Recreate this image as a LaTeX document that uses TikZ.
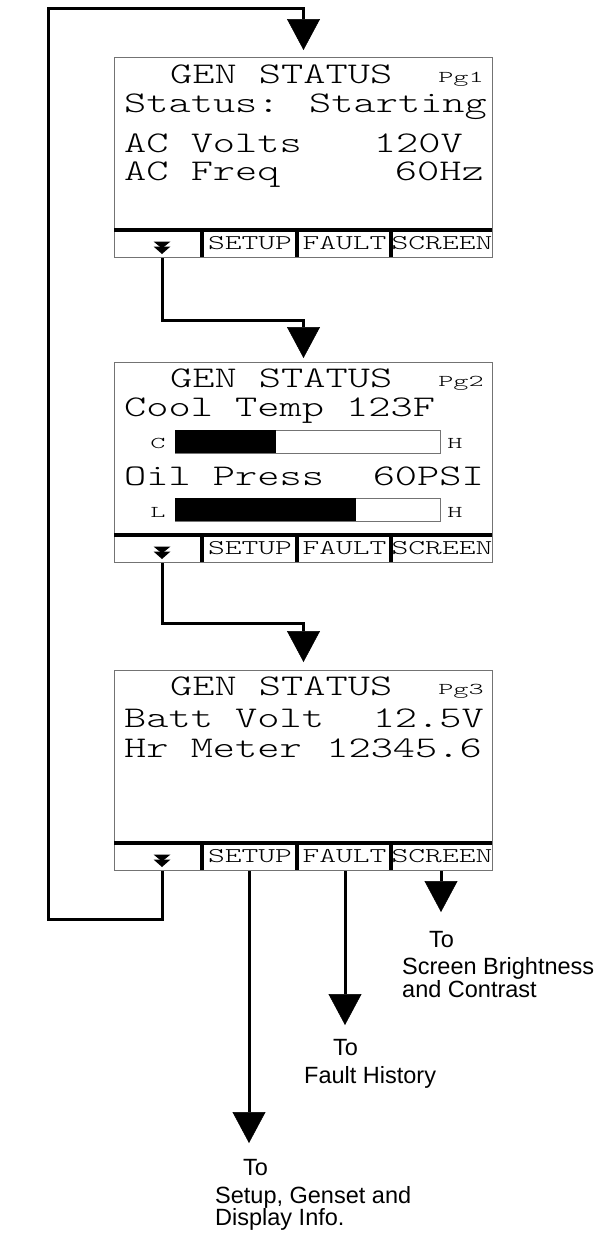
\documentclass[tikz,border=0pt]{standalone}
\usepackage{fontspec}
\usetikzlibrary{arrows.meta,positioning,calc}
\newfontfamily\lcdfont[FakeStretch=1.41]{lmmonolt10-regular.otf}
\newfontfamily\keyfont[FakeStretch=1.52]{lmmonolt10-regular.otf}
\newfontfamily\tinyfont[FakeStretch=1.75]{lmmonolt10-regular.otf}
\newfontfamily\labelfont{Liberation Sans}

\begin{document}
\begin{tikzpicture}[x=1pt, y=-1pt,
    scr/.style={draw=black!55, line width=1pt, minimum width=378pt, minimum height=200pt, inner sep=0pt, anchor=north west},
    sep/.style={line width=4pt},
    keycell/.style={minimum width=93pt, minimum height=27pt, inner sep=0pt, text height=13pt, text depth=4pt, font=\keyfont\fontsize{21}{21}\selectfont},
    navcell/.style={minimum width=1pt, minimum height=27pt, inner sep=0pt},
    big/.style={inner sep=0pt, anchor=base west, font=\lcdfont\fontsize{30}{30}\selectfont},
    val/.style={big, anchor=base east},
    small/.style={inner sep=0pt, anchor=base, font=\tinyfont\fontsize{16.5}{16.5}\selectfont},
    pg/.style={small, anchor=base east},
    bar/.style={draw=black!55, line width=0.8pt},
    arr/.style={-{Triangle[width=33pt, length=31pt, line width=0.5pt]}, line width=3pt},
    dest/.style={inner sep=0pt, anchor=base west, font=\labelfont\fontsize{23.5}{23.5}\selectfont}
]
\fill[white] (0,0) rectangle (608,1245);
\useasboundingbox (0,0) rectangle (608,1245);

\foreach \s/\t in {1/57, 2/362, 3/670} {
    \node[scr] (s\s) at (114,\t) {};
    \draw[sep] (114,\t+173) -- (492,\t+173);
    \foreach \x in {202, 297, 391}
        \draw[sep] (\x,\t+173) -- (\x,\t+200);
    \node[navcell] (nav\s) at (162,\t+187.5) {};
    \node[keycell] (setup\s) at (250,\t+187.5) {SETUP};
    \node[keycell] (fault\s) at (344.5,\t+187.5) {FAULT};
    \node[keycell] (screen\s) at (442,\t+187.5) {SCREEN};
    \fill ($(nav\s)+(-8.5,-3)$) -- ++(17,0) -- ++(-8.5,7) -- cycle;
    \fill ($(nav\s)+(-8.5,2)$) -- ++(17,0) -- ++(-8.5,7.5) -- cycle;
}

\node[big] (title1) at (170,83) {GEN STATUS};
\node[pg] (pg1) at (484,82) {Pg1};
\node[big] (status) at (124,112) {Status: Starting};
\node[big] (acv) at (124,152) {AC Volts};
\node[val] (acvval) at (463,152) {120V};
\node[big] (acf) at (124,180) {AC Freq};
\node[val] (acfval) at (484,180) {60Hz};

\node[big] (title2) at (170,387) {GEN STATUS};
\node[pg] (pg2) at (484,386) {Pg2};
\node[big] (cool) at (124,416) {Cool Temp 123F};
\node[small] (cold) at (158,448) {C};
\node[small] (hot) at (455,448) {H};
\draw[bar] (175,430) rectangle (440,453);
\fill (175,430) rectangle (276,453);
\node[big] (oil) at (124,485) {Oil Press};
\node[val] (oilval) at (484,485) {60PSI};
\node[small] (low) at (158,517) {L};
\node[small] (high) at (455,517) {H};
\draw[bar] (175,498) rectangle (440,521);
\fill (175,498) rectangle (356,521);

\node[big] (title3) at (170,695) {GEN STATUS};
\node[pg] (pg3) at (484,694) {Pg3};
\node[big] (batt) at (124,727) {Batt Volt};
\node[val] (battval) at (484,727) {12.5V};
\node[big] (hrs) at (124,757) {Hr Meter};
\node[val] (hrsval) at (482,757) {12345.6};

\coordinate (loopTL) at (48,8);
\draw[arr, shorten >=7pt] (nav3.south) -- ++(0,48) -| (loopTL) -| (s1.north);
\draw[arr, shorten >=4pt] (nav1.south) -- ++(0,62) -| (s2.north);
\draw[arr, shorten >=8pt] (nav2.south) -- ++(0,60) -| (s3.north);

\node[dest] (toScr) at (429,947) {To};
\node[dest] (scrA) at (402,974) {Screen Brightness};
\node[dest] (scrB) at (402,997) {and Contrast};
\node[dest] (toFlt) at (333,1055) {To};
\node[dest] (fltA) at (304,1083) {Fault History};
\node[dest] (toSet) at (243,1175) {To};
\node[dest] (setA) at (215,1203) {Setup, Genset and};
\node[dest] (setB) at (215,1225) {Display Info.};

\coordinate (scrEnd) at (441,912);
\coordinate (fltEnd) at (345,1025);
\coordinate (setEnd) at (249,1143);
\draw[arr] (screen3.south -| scrEnd) -- (scrEnd);
\draw[arr] (fault3.south -| fltEnd) -- (fltEnd);
\draw[arr] (setup3.south -| setEnd) -- (setEnd);
\end{tikzpicture}
\end{document}
